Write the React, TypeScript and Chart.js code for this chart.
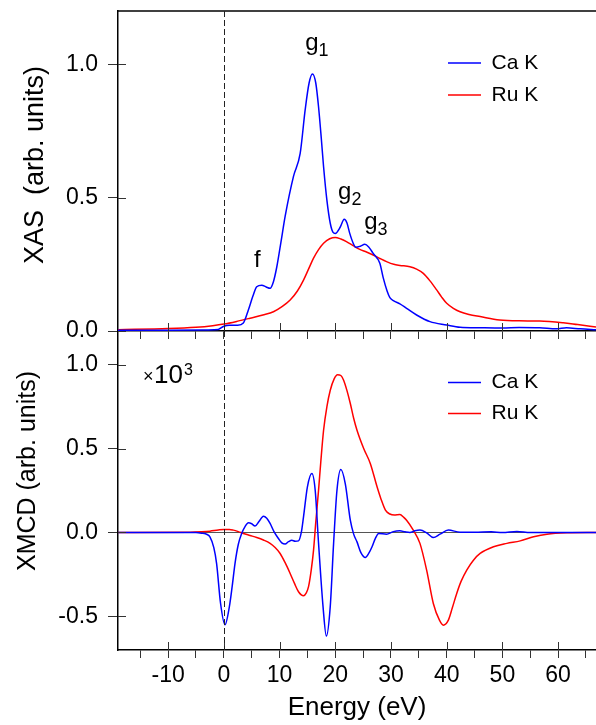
import React, { useEffect, useRef } from 'react';
import { Chart, registerables } from 'chart.js';

Chart.register(...registerables);

// ---------- data (energy in eV, intensity in arb. units) ----------
const caXas: [number, number][] = [
  [-19, 0.003], [-10, 0.003], [-3, 0.004], [-1, 0.006], [0, 0.018], [1, 0.022], [2.5, 0.022],
  [3.5, 0.03], [4.4, 0.079], [5.2, 0.13], [5.9, 0.166], [6.8, 0.172], [7.6, 0.165], [8.3, 0.16],
  [8.9, 0.185], [9.5, 0.24], [10.3, 0.34], [11, 0.43], [12.5, 0.58], [13.7, 0.666], [14.6, 0.83],
  [15.3, 0.93], [15.9, 0.964], [16.5, 0.93], [17.0, 0.84], [17.5, 0.72], [17.9, 0.616], [18.5, 0.49],
  [19.1, 0.404], [19.6, 0.37], [20.0, 0.366], [20.9, 0.39], [21.6, 0.419], [22.1, 0.405], [22.6, 0.366],
  [23.2, 0.33], [23.7, 0.314], [24.5, 0.318], [25.3, 0.325], [26.0, 0.315], [26.8, 0.291], [28.0, 0.254],
  [28.6, 0.2], [29.3, 0.15], [29.8, 0.125], [30.5, 0.113], [31.6, 0.102], [32.8, 0.085], [34.6, 0.06],
  [37, 0.035], [40, 0.0225], [42.4, 0.014], [46, 0.012], [50, 0.011], [53, 0.013], [56.7, 0.012],
  [59.7, 0.008], [61.5, 0.012], [64, 0.008], [66.8, 0.005],
];

const ruXas: [number, number][] = [
  [-19, 0.005], [-10, 0.009], [-5, 0.014], [-2, 0.02], [0, 0.026], [2.5, 0.037], [4.7, 0.048],
  [7, 0.06], [8.9, 0.072], [10.5, 0.092], [11.9, 0.116], [13.2, 0.15], [14.3, 0.191], [15.2, 0.232],
  [16.1, 0.273], [17.0, 0.305], [17.9, 0.329], [19.0, 0.346], [20.0, 0.351], [21.0, 0.345], [22.0, 0.335],
  [23.2, 0.32], [24.4, 0.306], [25.6, 0.296], [26.8, 0.285], [28.0, 0.272], [29.2, 0.26], [30.5, 0.25],
  [31.6, 0.246], [33.4, 0.241], [34.6, 0.232], [35.8, 0.216], [37.0, 0.188], [38.2, 0.154], [39.1, 0.127],
  [40.0, 0.104], [41.2, 0.085], [42.4, 0.072], [44, 0.062], [46.0, 0.054], [49.5, 0.041], [53, 0.038],
  [56.7, 0.0375], [60.9, 0.031], [63.5, 0.024], [66.8, 0.015],
];

const caXmcd: [number, number][] = [
  [-19, 0], [-5, 0], [-4, -0.004], [-3, -0.012], [-2.5, -0.026], [-1.8, -0.09], [-1.3, -0.185],
  [-0.6, -0.42], [0.2, -0.55], [1.0, -0.44], [1.5, -0.32], [2.0, -0.185], [2.6, -0.07], [3.2, -0.006],
  [3.8, 0.035], [4.4, 0.058], [5.0, 0.052], [5.6, 0.038], [6.3, 0.065], [7.1, 0.097], [7.7, 0.085],
  [8.3, 0.054], [9.0, 0.005], [9.8, -0.036], [10.4, -0.062], [11.0, -0.069], [11.6, -0.055], [12.2, -0.046],
  [12.8, -0.052], [13.4, -0.05], [13.9, 0.0], [14.3, 0.093], [15.0, 0.272], [15.8, 0.351], [16.4, 0.25],
  [17.0, -0.065], [17.8, -0.44], [18.4, -0.617], [19.1, -0.44], [19.7, -0.065], [20.3, 0.25], [21.0, 0.375],
  [21.8, 0.29], [22.7, 0.073], [23.3, -0.01], [23.9, -0.056], [24.6, -0.12], [25.4, -0.149], [26.0, -0.125],
  [26.6, -0.085], [27.2, -0.035], [27.8, -0.006], [29.2, -0.01], [30.4, 0.005], [31.6, 0.01], [32.5, 0.004],
  [33.4, 0.0], [34.3, 0.01], [35.2, 0.014], [36.4, -0.002], [37.6, -0.03], [38.8, -0.01], [40.3, 0.014],
  [42.4, 0.002], [45, 0.002], [48, 0.004], [50, 0.0], [52.6, 0.006], [55, 0], [66.8, 0],
];

const ruXmcd: [number, number][] = [
  [-19, 0], [-6, 0.001], [-4, 0.004], [-2.5, 0.008], [-1, 0.015], [0, 0.018], [1.0, 0.018], [1.7, 0.014],
  [2.6, 0.005], [3.5, -0.006], [4.7, -0.018], [5.9, -0.03], [7.1, -0.045], [8.3, -0.065], [9.2, -0.09],
  [10.1, -0.125], [11.0, -0.18], [11.9, -0.244], [12.7, -0.305], [13.4, -0.353], [14.3, -0.377], [14.8, -0.36],
  [15.2, -0.323], [15.7, -0.22], [16.1, -0.105], [16.5, 0.06], [17.0, 0.252], [17.4, 0.42], [17.9, 0.609],
  [18.5, 0.75], [19.1, 0.847], [19.8, 0.915], [20.4, 0.94], [21.0, 0.935], [21.5, 0.907], [22.1, 0.845],
  [22.7, 0.768], [23.3, 0.68], [23.9, 0.609], [25.1, 0.5], [26.3, 0.41], [27.5, 0.272], [28.2, 0.2],
  [29.0, 0.133], [29.8, 0.11], [30.6, 0.104], [31.6, 0.107], [32.3, 0.09], [32.8, 0.073], [34.0, 0.014],
  [35.2, -0.065], [36.4, -0.224], [37.6, -0.423], [38.7, -0.522], [39.4, -0.552], [40.3, -0.522],
  [41.0, -0.45], [41.8, -0.363], [42.6, -0.29], [43.6, -0.224], [44.8, -0.165], [46.0, -0.125],
  [48.4, -0.085], [50.8, -0.065], [53.2, -0.05], [55.6, -0.026], [58.0, -0.01], [61.6, -0.002], [66.8, 0],
];

const seriesLabels = ['Ca K', 'Ru K'];
const xMajorTicks = [-10, 0, 10, 20, 30, 40, 50, 60];
const xMinorTicks = [-15, -5, 5, 15, 25, 35, 45, 55, 65];
const xasTicks = [0, 0.5, 1.0];
const xmcdTicks = [-0.5, 0, 0.5, 1.0];
const xRange = [-19, 66.8];
const xasRange = [0, 1.2];
const xmcdRange = [-0.7, 1.2];

// peak annotations: [main, subscript, energy, intensity]
const xasPeakLabels: [string, string, number, number][] = [
  ['f', '', 5.4, 0.24],
  ['g', '1', 14.6, 1.052],
  ['g', '2', 20.5, 0.495],
  ['g', '3', 25.2, 0.383],
];

// ---------- styling ----------
const FONT = "'Liberation Sans', Arial, Helvetica, sans-serif";
const BLUE = '#0000ff';
const RED = '#ff0000';
const W = 596;
const H = 725;

const toPoints = (arr: [number, number][]) => arr.map(([x, y]) => ({ x, y }));

function makeOverlay(panel: 'top' | 'bottom') {
  return {
    id: 'overlay_' + panel,
    afterDraw(chart: any) {
      const { ctx, chartArea: a, scales } = chart;
      const x = scales.x;
      const y = scales.y;
      const yt = panel === 'top' ? xasTicks : xmcdTicks;
      ctx.save();
      // inner tick parts
      ctx.strokeStyle = '#333';
      ctx.lineWidth = 1;
      ctx.beginPath();
      for (const v of xMajorTicks) {
        const px = Math.round(x.getPixelForValue(v)) + 0.5;
        ctx.moveTo(px, a.bottom);
        ctx.lineTo(px, a.bottom - 8);
      }
      for (const v of yt) {
        const py = Math.round(y.getPixelForValue(v)) + 0.5;
        ctx.moveTo(a.left, py);
        ctx.lineTo(a.left + 8, py);
      }
      ctx.stroke();
      // top frame line
      if (panel === 'top') {
        ctx.strokeStyle = '#000';
        ctx.lineWidth = 1.5;
        ctx.beginPath();
        ctx.moveTo(a.left, a.top);
        ctx.lineTo(a.right, a.top);
        ctx.stroke();
      }
      // dashed line at E = 0
      const x0 = Math.round(x.getPixelForValue(0)) + 0.5;
      ctx.strokeStyle = '#222';
      ctx.lineWidth = 1;
      ctx.setLineDash([6, 3]);
      ctx.beginPath();
      ctx.moveTo(x0, a.top);
      ctx.lineTo(x0, a.bottom);
      ctx.stroke();
      ctx.setLineDash([]);

      // legend
      const legY0 = panel === 'top' ? a.top + 52 : a.top + 51.5;
      const legDy = panel === 'top' ? 32 : 31;
      [BLUE, RED].forEach((c, i) => {
        const ly = legY0 + i * legDy;
        ctx.strokeStyle = c;
        ctx.lineWidth = 1.5;
        ctx.beginPath();
        ctx.moveTo(448, ly);
        ctx.lineTo(481, ly);
        ctx.stroke();
        ctx.fillStyle = '#000';
        ctx.font = `21px ${FONT}`;
        ctx.textAlign = 'left';
        ctx.textBaseline = 'middle';
        ctx.fillText(seriesLabels[i], 491.5, ly);
      });

      ctx.fillStyle = '#000';
      ctx.textBaseline = 'alphabetic';
      if (panel === 'top') {
        for (const [main, sub, e, v] of xasPeakLabels) {
          const px = x.getPixelForValue(e);
          const py = y.getPixelForValue(v);
          ctx.font = `24px ${FONT}`;
          ctx.textAlign = 'left';
          ctx.fillText(main, px, py);
          if (sub) {
            const w = ctx.measureText(main).width;
            ctx.font = `18px ${FONT}`;
            ctx.fillText(sub, px + w, py + 6);
          }
        }
        // y title
        ctx.save();
        ctx.translate(43, (a.top + a.bottom) / 2 - 6);
        ctx.rotate(-Math.PI / 2);
        ctx.font = `27px ${FONT}`;
        ctx.textAlign = 'center';
        ctx.fillText('XAS  (arb. units)', 0, 0);
        ctx.restore();
      } else {
        // ×10^3 factor
        const bx = a.left + 25;
        const by = a.top + 52;
        ctx.textAlign = 'left';
        ctx.font = `18px ${FONT}`;
        ctx.fillText('×', bx, by - 1);
        ctx.font = `26px ${FONT}`;
        ctx.fillText('10', bx + 11, by);
        const w10 = ctx.measureText('10').width;
        ctx.font = `16px ${FONT}`;
        ctx.fillText('3', bx + 11 + w10 + 1, by - 8);
        ctx.save();
        ctx.translate(35, (a.top + a.bottom) / 2 - 19.5);
        ctx.rotate(-Math.PI / 2);
        ctx.font = `25px ${FONT}`;
        ctx.textAlign = 'center';
        ctx.fillText('XMCD (arb. units)', 0, 0);
        ctx.restore();
      }
      ctx.restore();
    },
  };
}

function zeroPad(s: any) {
  s.paddingTop = 0;
  s.paddingBottom = 0;
  s.paddingLeft = 0;
  s.paddingRight = 0;
}

function buildConfig(panel: 'top' | 'bottom'): any {
  const isTop = panel === 'top';
  const yTicks = isTop ? xasTicks : xmcdTicks;
  const yRange = isTop ? xasRange : xmcdRange;
  const data = isTop ? [caXas, ruXas] : [caXmcd, ruXmcd];
  const allX = [...xMinorTicks, ...xMajorTicks].sort((p, q) => p - q);
  return {
    type: 'line',
    data: {
      datasets: data.map((d, i) => ({
        label: seriesLabels[i],
        data: toPoints(d),
        borderColor: i === 0 ? BLUE : RED,
        borderWidth: 1.5,
        pointRadius: 0,
        fill: false,
        cubicInterpolationMode: 'monotone',
      })),
    },
    options: {
      responsive: false,
      animation: false,
      events: [],
      layout: {
        padding: isTop
          ? { left: 0, right: 0, top: 11, bottom: H - 331 - 10 }
          : { left: 0, right: 0, top: 331, bottom: 0 },
      },
      plugins: { legend: { display: false }, tooltip: { enabled: false }, title: { display: false } },
      scales: {
        x: {
          type: 'linear',
          position: 'bottom',
          min: xRange[0],
          max: xRange[1],
          afterBuildTicks: (s: any) => {
            s.ticks = allX.map((v) => ({ value: v }));
          },
          afterFit: (s: any) => {
            s.height = isTop ? 10 : H - 650;
            zeroPad(s);
          },
          ticks: {
            display: !isTop,
            autoSkip: false,
            maxRotation: 0,
            padding: 4,
            color: '#000',
            font: { family: FONT, size: 23 },
            callback: (v: number) => (xMajorTicks.includes(v) ? String(v) : ''),
          },
          grid: {
            drawOnChartArea: false,
            drawTicks: true,
            tickLength: 8,
            tickColor: '#333',
            tickWidth: 1,
          },
          border: { display: true, color: '#000', width: 1.5 },
          title: {
            display: !isTop,
            text: 'Energy (eV)',
            color: '#000',
            font: { family: FONT, size: 26 },
            padding: { top: 0, bottom: 2 },
          },
        },
        y: {
          type: 'linear',
          position: 'left',
          min: yRange[0],
          max: yRange[1],
          afterBuildTicks: (s: any) => {
            s.ticks = yTicks.map((v) => ({ value: v }));
          },
          afterFit: (s: any) => {
            s.width = 118;
            zeroPad(s);
          },
          ticks: {
            padding: 10,
            color: '#000',
            font: { family: FONT, size: 23 },
            callback: (v: number) => v.toFixed(1),
          },
          grid: {
            drawOnChartArea: !isTop,
            color: (c: any) => (!isTop && c.tick && c.tick.value === 0 ? '#555' : 'rgba(0,0,0,0)'),
            lineWidth: 1,
            drawTicks: true,
            tickLength: 10,
            tickColor: '#333',
            tickWidth: 1,
          },
          border: { display: true, color: '#000', width: 1.5 },
        },
      },
    },
    plugins: [makeOverlay(panel)],
  };
}

function Panel({ panel }: { panel: 'top' | 'bottom' }) {
  const ref = useRef<HTMLCanvasElement | null>(null);
  useEffect(() => {
    if (!ref.current) return;
    const chart = new Chart(ref.current, buildConfig(panel));
    return () => chart.destroy();
  }, [panel]);
  return (
    <canvas
      ref={ref}
      width={W}
      height={H}
      style={{ position: 'absolute', left: 0, top: 0, width: W, height: H }}
    />
  );
}

export default function App() {
  return (
    <div style={{ position: 'absolute', left: 0, top: 0, width: W, height: H, background: '#fff' }}>
      <Panel panel="bottom" />
      <Panel panel="top" />
    </div>
  );
}
